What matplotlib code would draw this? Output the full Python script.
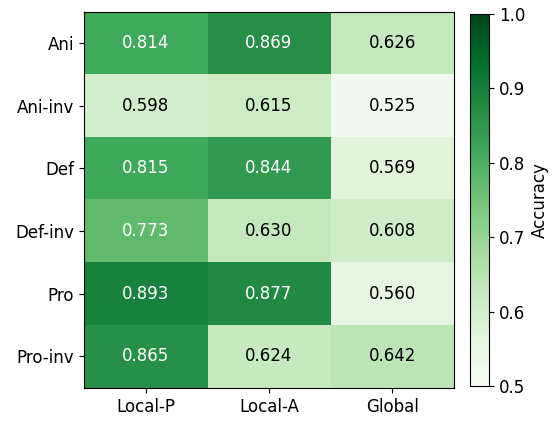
import numpy as np
import matplotlib
matplotlib.use('Agg')
import matplotlib.pyplot as plt

rows = ['Ani', 'Ani-inv', 'Def', 'Def-inv', 'Pro', 'Pro-inv']
cols = ['Local-P', 'Local-A', 'Global']
acc = np.array([
    [0.814, 0.869, 0.626],
    [0.598, 0.615, 0.525],
    [0.815, 0.844, 0.569],
    [0.773, 0.630, 0.608],
    [0.893, 0.877, 0.560],
    [0.865, 0.624, 0.642],
])

fig = plt.figure(figsize=(5.55, 4.22), dpi=100)
ax = fig.add_axes([0.151, 0.081, 0.667, 0.891])
cax = fig.add_axes([0.847, 0.085, 0.034, 0.882])

im = ax.imshow(acc, cmap='Greens', vmin=0.5, vmax=1.0, aspect='auto')
ax.set_xticks(range(len(cols)))
ax.set_xticklabels(cols, fontsize=12)
ax.set_yticks(range(len(rows)))
ax.set_yticklabels(rows, fontsize=12)

for i in range(acc.shape[0]):
    for j in range(acc.shape[1]):
        v = acc[i, j]
        ax.text(j, i, f'{v:.3f}', ha='center', va='center', fontsize=12,
                color='white' if v > 0.75 else 'black')

cb = fig.colorbar(im, cax=cax)
cb.set_label('Accuracy', fontsize=12)
cb.ax.tick_params(labelsize=12)

fig.savefig('out.png', dpi=100)
